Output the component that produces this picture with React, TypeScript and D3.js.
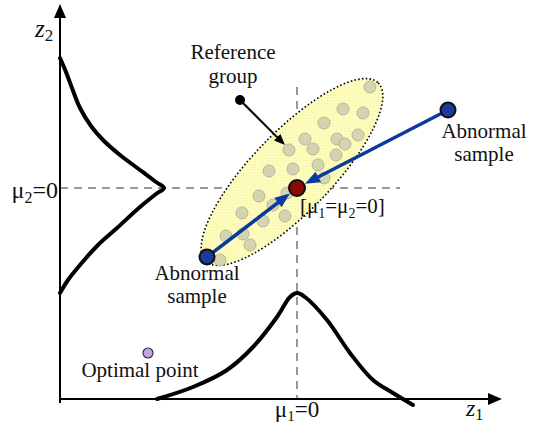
import { useEffect, useRef } from 'react';
import * as d3 from 'd3';

// all coordinates in (z1, z2) units, mean of the reference group at (0, 0)
const refSamples: [number, number][] = [
  [1.46, 2.02], [0.92, 1.58], [1.32, 1.5], [0.54, 1.3], [1.22, 1.06],
  [0.16, 0.98], [0.8, 0.98], [0.96, 0.88], [0.32, 0.78], [-0.16, 0.76],
  [0.78, 0.66], [0.42, 0.46], [-0.56, 0.34], [-0.08, 0.38], [0.54, 0.2],
  [-0.76, -0.16], [-0.2, -0.1], [-0.48, -0.34], [-1.1, -0.5], [-0.68, -0.66],
  [-0.24, -0.56], [-1.42, -0.96], [-1.08, -0.92], [-0.94, -1.14], [-1.54, -1.44],
];

const abnormalSamples: [number, number][] = [[-1.8, -1.38], [3.02, 1.56]];
const groupMean: [number, number] = [0, 0];
const optimalPoint: [number, number] = [-2.98, -3.3];

// reference group ellipse: centre, semi axes, tilt (deg)
const ellipseCentre: [number, number] = [-0.1, 0.32];
const ellipseAxes: [number, number] = [2.48, 0.8];
const ellipseTilt = 46;

// marginal densities as drawn
const densityZ2: [number, number][] = [
  [-4.74, 2.6], [-4.62, 2.32], [-4.5, 2.0], [-4.34, 1.6], [-4.12, 1.24],
  [-3.88, 0.96], [-3.54, 0.66], [-3.14, 0.36], [-2.82, 0.12], [-2.66, 0],
  [-2.82, -0.12], [-3.14, -0.38], [-3.6, -0.8], [-3.98, -1.14], [-4.34, -1.54],
  [-4.58, -1.84], [-4.74, -2.1],
];
const densityZ1: [number, number][] = [
  [-2.8, -4.22], [-2.08, -3.98], [-1.4, -3.64], [-0.88, -3.18], [-0.4, -2.58],
  [-0.14, -2.18], [0, -2.1], [0.16, -2.18], [0.6, -2.64], [1.06, -3.3],
  [1.52, -3.84], [1.92, -4.1], [2.32, -4.34],
];

const refLabelDot: [number, number] = [-1.14, 1.76];
const refLabelTip: [number, number] = [-0.24, 0.86];

const SERIF = 'Liberation Serif';

export default function App() {
  const svgRef = useRef<SVGSVGElement>(null);

  useEffect(() => {
    const W = 533;
    const H = 424;
    const svg = d3.select(svgRef.current);
    svg.selectAll('*').remove();
    svg.attr('width', W).attr('height', H).attr('font-family', SERIF);

    const x = d3.scaleLinear().domain([-4.74, 4.1]).range([60, 502]);
    const y = d3.scaleLinear().domain([-4.22, 3.68]).range([399, 4]);
    const unit = x(1) - x(0);

    svg.append('rect').attr('width', W).attr('height', H).attr('fill', '#fff');

    const defs = svg.append('defs');
    const pat = defs.append('pattern')
      .attr('id', 'hatch')
      .attr('width', 4).attr('height', 4)
      .attr('patternUnits', 'userSpaceOnUse');
    pat.append('rect').attr('width', 4).attr('height', 4).attr('fill', '#ffffc4');
    pat.append('path').attr('d', 'M0,0L4,4M4,0L0,4')
      .attr('stroke', '#f6f2a6').attr('stroke-width', 0.7);

    const arrowHead = (tip: [number, number], from: [number, number], len: number, half: number, color: string) => {
      const dx = tip[0] - from[0];
      const dy = tip[1] - from[1];
      const d = Math.hypot(dx, dy);
      const ux = dx / d, uy = dy / d;
      const bx = tip[0] - ux * len, by = tip[1] - uy * len;
      svg.append('path')
        .attr('d', `M${tip[0]},${tip[1]}L${bx - uy * half},${by + ux * half}L${bx + uy * half},${by - ux * half}Z`)
        .attr('fill', color);
    };

    // dashed guides through the mean
    svg.append('line')
      .attr('x1', x(0)).attr('x2', x(0)).attr('y1', y(2.02)).attr('y2', y(-4.22))
      .attr('stroke', '#999').attr('stroke-width', 2).attr('stroke-dasharray', '8,6');
    svg.append('line')
      .attr('x1', x(-4.74)).attr('x2', x(2.06)).attr('y1', y(0)).attr('y2', y(0))
      .attr('stroke', '#999').attr('stroke-width', 2).attr('stroke-dasharray', '8,6');

    // axes
    svg.append('line')
      .attr('x1', x(-4.74)).attr('x2', x(-4.74)).attr('y1', y(-4.3)).attr('y2', y(3.45))
      .attr('stroke', '#000').attr('stroke-width', 2);
    arrowHead([x(-4.74), y(3.68)], [x(-4.74), y(0)], 14, 6, '#000');
    svg.append('line')
      .attr('x1', x(-4.74)).attr('x2', x(3.86)).attr('y1', y(-4.22)).attr('y2', y(-4.22))
      .attr('stroke', '#000').attr('stroke-width', 2);
    arrowHead([x(4.1), y(-4.22)], [x(0), y(-4.22)], 14, 6, '#000');

    // marginal densities
    const line = d3.line<[number, number]>()
      .x(d => x(d[0]))
      .y(d => y(d[1]))
      .curve(d3.curveCatmullRom.alpha(0.5));
    [densityZ2, densityZ1].forEach(pts => {
      svg.append('path')
        .datum(pts)
        .attr('d', line)
        .attr('fill', 'none')
        .attr('stroke', '#000')
        .attr('stroke-width', 4)
        .attr('stroke-linecap', 'round');
    });

    // reference group ellipse
    svg.append('ellipse')
      .attr('transform', `translate(${x(ellipseCentre[0])},${y(ellipseCentre[1])}) rotate(${-ellipseTilt})`)
      .attr('rx', ellipseAxes[0] * unit)
      .attr('ry', ellipseAxes[1] * unit)
      .attr('fill', 'url(#hatch)')
      .attr('stroke', '#000')
      .attr('stroke-width', 1.6)
      .attr('stroke-dasharray', '1.6,2.2');

    svg.selectAll('circle.ref')
      .data(refSamples)
      .enter()
      .append('circle')
      .attr('class', 'ref')
      .attr('cx', d => x(d[0]))
      .attr('cy', d => y(d[1]))
      .attr('r', 6)
      .attr('fill', '#d4d4b0')
      .attr('stroke', '#b6b69a')
      .attr('stroke-width', 1);

    // abnormal samples pulled towards the mean
    const mx = x(groupMean[0]), my = y(groupMean[1]);
    abnormalSamples.forEach(s => {
      const sx = x(s[0]), sy = y(s[1]);
      const d = Math.hypot(mx - sx, my - sy);
      const tip: [number, number] = [mx - (mx - sx) / d * 9, my - (my - sy) / d * 9];
      const base: [number, number] = [tip[0] - (mx - sx) / d * 10, tip[1] - (my - sy) / d * 10];
      svg.append('line')
        .attr('x1', sx).attr('y1', sy).attr('x2', base[0]).attr('y2', base[1])
        .attr('stroke', '#0b3a9e').attr('stroke-width', 3.5);
      arrowHead(tip, [sx, sy], 15, 6, '#0b3a9e');
    });
    svg.selectAll('circle.abn')
      .data(abnormalSamples)
      .enter()
      .append('circle')
      .attr('class', 'abn')
      .attr('cx', d => x(d[0]))
      .attr('cy', d => y(d[1]))
      .attr('r', 7.5)
      .attr('fill', '#1a3b9c')
      .attr('stroke', '#111')
      .attr('stroke-width', 2);

    svg.append('circle')
      .attr('cx', mx).attr('cy', my).attr('r', 8)
      .attr('fill', '#8a0a0a').attr('stroke', '#111').attr('stroke-width', 2);

    svg.append('circle')
      .attr('cx', x(optimalPoint[0])).attr('cy', y(optimalPoint[1])).attr('r', 5)
      .attr('fill', '#c9a2ec').attr('stroke', '#333').attr('stroke-width', 1.2);

    // pointer for the reference group label
    const p0: [number, number] = [x(refLabelDot[0]), y(refLabelDot[1])];
    const p1: [number, number] = [x(refLabelTip[0]), y(refLabelTip[1])];
    svg.append('line')
      .attr('x1', p0[0]).attr('y1', p0[1])
      .attr('x2', p1[0] - (p1[0] - p0[0]) * 0.12).attr('y2', p1[1] - (p1[1] - p0[1]) * 0.12)
      .attr('stroke', '#000').attr('stroke-width', 2);
    arrowHead(p1, p0, 11, 4.5, '#000');
    svg.append('circle').attr('cx', p0[0]).attr('cy', p0[1]).attr('r', 5).attr('fill', '#000');

    // text
    const txt = (tx: number, ty: number, size: number, anchor = 'middle') =>
      svg.append('text')
        .attr('x', tx).attr('y', ty)
        .attr('font-family', SERIF)
        .attr('font-size', size)
        .attr('fill', '#111')
        .attr('text-anchor', anchor);

    txt(233, 59, 21).text('Reference');
    txt(233, 83, 21).text('group');
    txt(484, 138, 21).text('Abnormal');
    txt(484, 161, 21).text('sample');
    txt(197, 280, 21).text('Abnormal');
    txt(197, 303, 21).text('sample');
    txt(140, 377, 21).text('Optimal point');

    const withSubs = (t: d3.Selection<SVGTextElement, unknown, null, undefined>, parts: [string, boolean][], sub: number, shift: number) => {
      parts.forEach(([s, isSub], i) => {
        const prevSub = i > 0 && parts[i - 1][1];
        const ts = t.append('tspan').text(s);
        if (isSub) ts.attr('font-size', sub).attr('dy', shift);
        else if (prevSub) ts.attr('dy', -shift);
      });
    };

    withSubs(txt(300, 213, 21, 'start'), [['[μ', false], ['1', true], ['=μ', false], ['2', true], ['=0]', false]], 14, 5);
    withSubs(txt(58, 198, 24, 'end'), [['μ', false], ['2', true], ['=0', false]], 16, 5);
    withSubs(txt(297, 417, 23), [['μ', false], ['1', true], ['=0', false]], 15, 4);

    const z2 = txt(35, 37, 25, 'start');
    z2.append('tspan').attr('font-style', 'italic').text('z');
    z2.append('tspan').attr('font-size', 17).attr('dy', 4).text('2');
    const z1 = txt(466, 416, 24, 'start');
    z1.append('tspan').attr('font-style', 'italic').text('z');
    z1.append('tspan').attr('font-size', 16).attr('dy', 4).text('1');
  }, []);

  return (
    <svg ref={svgRef} style={{ position: 'absolute', left: 0, top: 0, display: 'block' }}></svg>
  );
}
